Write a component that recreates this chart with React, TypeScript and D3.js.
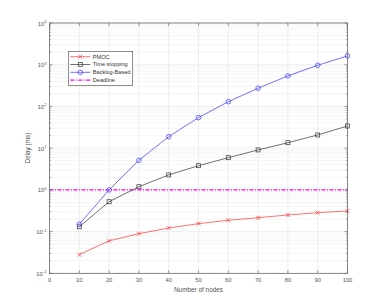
import React from "react";
import { scaleLinear, scaleLog, line, range } from "d3";

const nodes = [10, 20, 30, 40, 50, 60, 70, 80, 90, 100];
const pmoc = [0.028, 0.06, 0.089, 0.122, 0.155, 0.187, 0.215, 0.25, 0.284, 0.312];
const timeStopping = [0.13, 0.52, 1.19, 2.28, 3.8, 5.9, 9.06, 13.5, 20.7, 34];
const backlog = [0.15, 1.0, 5.1, 18.9, 54, 130, 273, 540, 970, 1630];
const deadline = 1;

const xTicks = [0, 10, 20, 30, 40, 50, 60, 70, 80, 90, 100];
const yExponents = [-2, -1, 0, 1, 2, 3, 4];

const seriesNames = ["PMOC", "Time stopping", "Backlog-Based", "Deadline"];

const width = 384;
const height = 307;
const margin = { top: 23, right: 36.5, bottom: 33.7, left: 49.5 };

const App = () => {
  const innerWidth = width - margin.left - margin.right;
  const innerHeight = height - margin.top - margin.bottom;

  const xScale = scaleLinear().domain([0, 100]).range([0, innerWidth]);
  const yScale = scaleLog().domain([0.01, 10000]).range([innerHeight, 0]);

  const lineGen = line<number>()
    .x((d, i) => xScale(nodes[i]))
    .y((d) => yScale(d));

  // minor ticks 2..9 for each decade
  const minorTicks: number[] = [];
  yExponents.slice(0, -1).forEach((e) => {
    range(2, 10).forEach((m) => minorTicks.push(m * Math.pow(10, e)));
  });

  const axisColor = "#5a5a5a";
  const textColor = "#555";
  const font = "Liberation Sans, Arial, sans-serif";

  const series = [
    { name: seriesNames[0], values: pmoc, color: "#ff3333", marker: "x" },
    { name: seriesNames[1], values: timeStopping, color: "#333333", marker: "square" },
    { name: seriesNames[2], values: backlog, color: "#3333ff", marker: "circle" },
  ];

  const marker = (type: string, cx: number, cy: number, color: string, key: any) => {
    const r = 2;
    if (type === "x")
      return (
        <path key={key} d={`M${cx - r},${cy - r}L${cx + r},${cy + r}M${cx - r},${cy + r}L${cx + r},${cy - r}`}
          stroke={color} strokeWidth={0.7} fill="none" />
      );
    if (type === "square")
      return <rect key={key} x={cx - r} y={cy - r} width={2 * r} height={2 * r} stroke={color} strokeWidth={0.7} fill="none" />;
    return <circle key={key} cx={cx} cy={cy} r={r + 0.3} stroke={color} strokeWidth={0.7} fill="none" />;
  };

  return (
    <svg width={width} height={height} style={{ position: "absolute", left: 0, top: 0 }}>
      <rect width={width} height={height} fill="white" />
      <g transform={`translate(${margin.left},${margin.top})`} fontFamily={font}>
        {/* minor grid */}
        {minorTicks.map((t) => (
          <line key={"mg" + t} x1={0} x2={innerWidth} y1={yScale(t)} y2={yScale(t)}
            stroke="#d6d6d6" strokeWidth={0.5} strokeDasharray="1,1" />
        ))}
        {/* major grid */}
        {xTicks.map((t) => (
          <line key={"gx" + t} x1={xScale(t)} x2={xScale(t)} y1={0} y2={innerHeight} stroke="#e3e3e3" strokeWidth={0.6} />
        ))}
        {yExponents.map((e) => (
          <line key={"gy" + e} x1={0} x2={innerWidth} y1={yScale(Math.pow(10, e))} y2={yScale(Math.pow(10, e))}
            stroke="#e3e3e3" strokeWidth={0.6} />
        ))}

        {/* deadline */}
        <line x1={0} x2={innerWidth} y1={yScale(deadline)} y2={yScale(deadline)}
          stroke="#ff00ff" strokeWidth={1.3} strokeDasharray="4,1.5,1,1.5" />

        {/* series */}
        {series.map((s) => (
          <g key={s.name}>
            <path d={lineGen(s.values) || ""} fill="none" stroke={s.color} strokeWidth={0.7} />
            {s.values.map((v, i) => marker(s.marker, xScale(nodes[i]), yScale(v), s.color, i))}
          </g>
        ))}

        {/* axes box and ticks */}
        <rect x={0} y={0} width={innerWidth} height={innerHeight} fill="none" stroke={axisColor} strokeWidth={0.7} />
        {xTicks.map((t) => (
          <g key={"xt" + t} transform={`translate(${xScale(t)},0)`}>
            <line y1={innerHeight} y2={innerHeight - 3} stroke={axisColor} strokeWidth={0.6} />
            <line y1={0} y2={3} stroke={axisColor} strokeWidth={0.6} />
            <text y={innerHeight + 9} textAnchor="middle" fontSize={5.8} fill={textColor}>{t}</text>
          </g>
        ))}
        {minorTicks.map((t) => (
          <g key={"ymt" + t}>
            <line x1={0} x2={1.5} y1={yScale(t)} y2={yScale(t)} stroke={axisColor} strokeWidth={0.5} />
            <line x1={innerWidth} x2={innerWidth - 1.5} y1={yScale(t)} y2={yScale(t)} stroke={axisColor} strokeWidth={0.5} />
          </g>
        ))}
        {yExponents.map((e) => (
          <g key={"yt" + e} transform={`translate(0,${yScale(Math.pow(10, e))})`}>
            <line x1={0} x2={3} stroke={axisColor} strokeWidth={0.6} />
            <line x1={innerWidth} x2={innerWidth - 3} stroke={axisColor} strokeWidth={0.6} />
            <text x={-3} y={2.5} textAnchor="end" fontSize={5.8} fill={textColor}>
              10<tspan dy={-2.5} fontSize={4.2}>{e}</tspan>
            </text>
          </g>
        ))}

        {/* axis labels */}
        <text x={innerWidth / 2} y={innerHeight + 19} textAnchor="middle" fontSize={6.4} fill={textColor}>
          Number of nodes
        </text>
        <text transform={`translate(-20,${innerHeight / 2}) rotate(-90)`} textAnchor="middle" fontSize={6.4} fill={textColor}>
          Delay (ms)
        </text>

        {/* legend */}
        <g transform="translate(18.8,28.3)">
          <rect x={0} y={0} width={64.4} height={34} fill="white" stroke="#444" strokeWidth={0.6} />
          {seriesNames.map((name, i) => {
            const y = 5.4 + i * 7.8;
            const s = series[i];
            return (
              <g key={name}>
                {s ? (
                  <>
                    <line x1={2} x2={22} y1={y} y2={y} stroke={s.color} strokeWidth={0.7} />
                    {marker(s.marker, 12, y, s.color, "m")}
                  </>
                ) : (
                  <line x1={2} x2={22} y1={y} y2={y} stroke="#ff00ff" strokeWidth={1.3} strokeDasharray="4,1.5,1,1.5" />
                )}
                <text x={24.5} y={y + 2} fontSize={5.6} fill="#333">{name}</text>
              </g>
            );
          })}
        </g>
      </g>
    </svg>
  );
};

export default App;
